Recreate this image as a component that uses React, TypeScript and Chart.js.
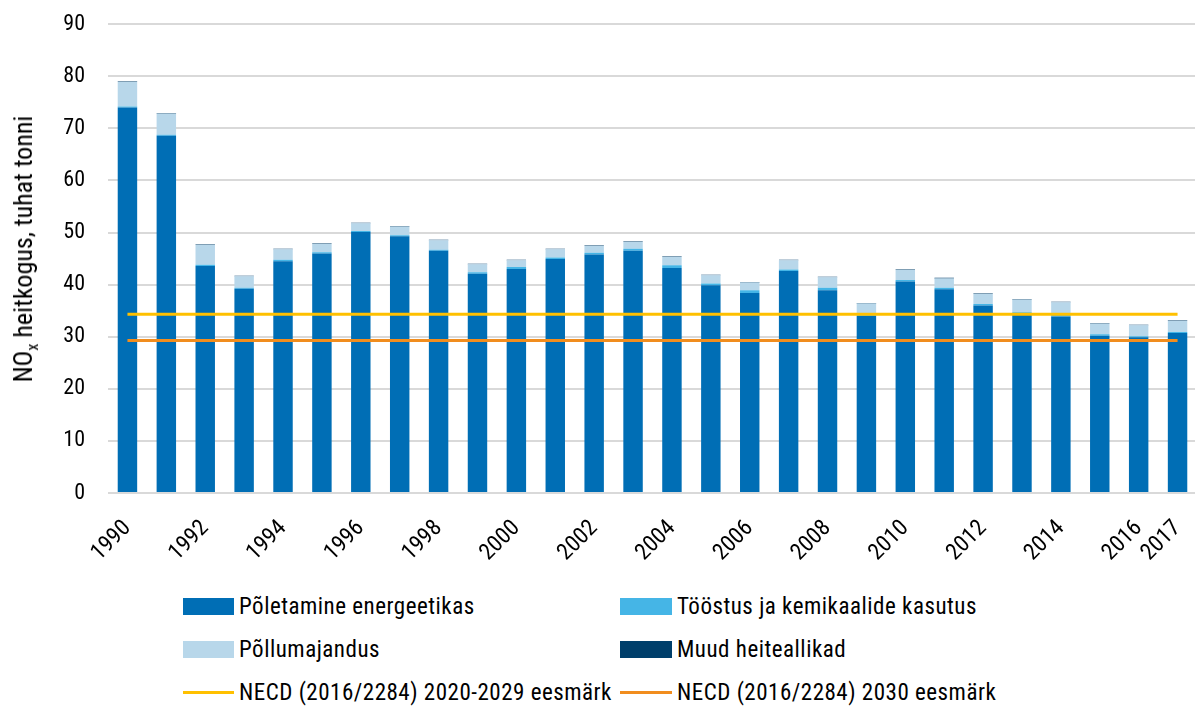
import React, { useEffect, useRef } from 'react';
import { Chart, registerables } from 'chart.js';
Chart.register(...registerables);

const years = ['1990','1991','1992','1993','1994','1995','1996','1997','1998','1999','2000','2001','2002','2003','2004','2005','2006','2007','2008','2009','2010','2011','2012','2013','2014','2015','2016','2017'];
const energeetika = [74.0,68.6,43.6,39.2,44.5,46.0,50.1,49.3,46.5,42.1,43.0,44.9,45.8,46.5,43.2,39.9,38.4,42.6,38.9,34.0,40.6,39.1,36.0,34.2,33.9,30.2,29.9,30.7];
const toostus = [0.2,0.2,0.2,0.2,0.3,0.2,0.2,0.2,0.2,0.3,0.4,0.3,0.3,0.4,0.5,0.3,0.5,0.3,0.5,0.2,0.3,0.3,0.3,0.5,0.3,0.3,0.2,0.2];
const pollumajandus = [4.7,4.0,3.8,2.2,2.0,1.6,1.5,1.6,1.8,1.5,1.3,1.6,1.3,1.3,1.6,1.6,1.5,1.8,2.0,2.2,1.9,1.8,1.9,2.4,2.4,2.0,2.1,2.1];
const muud = [0.1,0.1,0.1,0.1,0.1,0.1,0.1,0.1,0.1,0.1,0.1,0.1,0.1,0.1,0.1,0.1,0.1,0.1,0.1,0.1,0.1,0.1,0.1,0.1,0.1,0.1,0.1,0.1];
const necd2020 = 34.3;
const necd2030 = 29.3;
const yTicks = [0,10,20,30,40,50,60,70,80,90];

const FONT = "'Liberation Sans Narrow', 'Roboto Condensed', Roboto, sans-serif";
const C_ENERGY = '#006eb5';
const C_IND = '#45b5e6';
const C_AGRI = '#b8d7ea';
const C_OTHER = '#003f6b';
const C_Y = '#ffc000';
const C_O = '#f18d1e';

export default function App() {
  const ref = useRef<HTMLCanvasElement>(null);
  useEffect(() => {
    const bar = (label: string, data: number[], color: string) => ({
      type: 'bar' as const, label, data, backgroundColor: color, order: 2,
      categoryPercentage: 1, barPercentage: 0.5, stack: 'bars',
    });
    const line = (label: string, v: number, color: string, stack: string) => ({
      type: 'line' as const, label, data: years.map(() => v), borderColor: color,
      backgroundColor: color, borderWidth: 3, pointRadius: 0, order: 0, stack,
    });
    const chart = new Chart(ref.current!, {
      type: 'bar',
      data: {
        labels: years,
        datasets: [
          bar('Põletamine energeetikas', energeetika, C_ENERGY),
          bar('Tööstus ja kemikaalide kasutus', toostus, C_IND),
          bar('Põllumajandus', pollumajandus, C_AGRI),
          bar('Muud heiteallikad', muud, C_OTHER),
          line('NECD (2016/2284) 2020-2029 eesmärk', necd2020, C_Y, 'l1'),
          line('NECD (2016/2284) 2030 eesmärk', necd2030, C_O, 'l2'),
        ] as any,
      },
      options: {
        responsive: false,
        animation: false,
        layout: { padding: { top: 2, right: 0, left: 0, bottom: 0 } },
        plugins: { legend: { display: false }, tooltip: { enabled: false } },
        scales: {
          x: {
            stacked: true,
            grid: { display: false, drawTicks: false },
            border: { display: false },
            ticks: {
              autoSkip: false, maxRotation: 45, minRotation: 45, padding: 22,
              color: '#000', font: { family: FONT, size: 23 },
              callback: (_v: any, i: number) => (i % 2 === 0 || i === years.length - 1 ? years[i] : ''),
            },
            afterFit: (s: any) => { s.height = 83; s.paddingRight = 0; s.paddingLeft = 0; },
          },
          y: {
            stacked: true, min: 0, max: 90,
            afterBuildTicks: (s: any) => { s.ticks = yTicks.map((v) => ({ value: v })); },
            grid: { color: '#d9d9d9', lineWidth: 2, drawTicks: false },
            border: { display: false },
            ticks: { padding: 23, color: '#000', font: { family: FONT, size: 22 } },
            afterFit: (s: any) => { s.width = 108; },
          },
        },
      } as any,
    });
    return () => chart.destroy();
  }, []);

  const legendItem = (left: number, top: number, color: string, text: string, isLine: boolean, boxW: number) => (
    <div style={{ position: 'absolute', left, top: top - 14, height: 28, display: 'flex', alignItems: 'center' }}>
      <div style={{ width: boxW, height: isLine ? 3 : 17, background: color, marginRight: 5 }} />
      <span style={{ fontFamily: FONT, fontSize: 23, letterSpacing: 0.5, color: '#000', whiteSpace: 'nowrap' }}>{text}</span>
    </div>
  );

  return (
    <div style={{ position: 'absolute', left: 0, top: 0, width: 1195, height: 706, background: '#fff', overflow: 'hidden' }}>
      <canvas ref={ref} width={1197} height={588} style={{ position: 'absolute', left: 0, top: -12 }} />
      <div style={{ position: 'absolute', left: 23, top: 249, transform: 'translate(-50%, -50%) rotate(-90deg)', fontFamily: FONT, fontSize: 26, whiteSpace: 'nowrap', color: '#000', lineHeight: '30px' }}>
        NO<sub style={{ fontSize: 16, verticalAlign: 'sub', lineHeight: 0 }}>x</sub> heitkogus, tuhat tonni
      </div>
      {legendItem(183, 606, C_ENERGY, 'Põletamine energeetikas', false, 51)}
      {legendItem(620, 606, C_IND, 'Tööstus ja kemikaalide kasutus', false, 52)}
      {legendItem(183, 649, C_AGRI, 'Põllumajandus', false, 51)}
      {legendItem(620, 649, C_OTHER, 'Muud heiteallikad', false, 52)}
      {legendItem(183, 692, C_Y, 'NECD (2016/2284) 2020-2029 eesmärk', true, 51)}
      {legendItem(620, 692, C_O, 'NECD (2016/2284) 2030 eesmärk', true, 52)}
    </div>
  );
}
